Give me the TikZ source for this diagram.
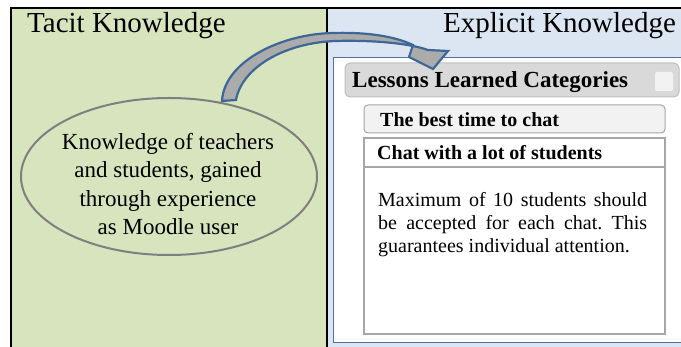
\documentclass[tikz,border=0pt]{standalone}
\usepackage{fontspec}
\setmainfont{Liberation Serif}
\usetikzlibrary{shapes.geometric}
\definecolor{tacitgreen}{HTML}{D7E4BD}
\definecolor{explblue}{HTML}{DCE6F2}
\definecolor{arrowblue}{HTML}{3D6796}
\definecolor{arrowgray}{HTML}{ABABAB}
\definecolor{ellgray}{HTML}{7F7F7F}
\definecolor{panelblue}{HTML}{4A74AA}
\definecolor{barfill}{HTML}{D9D9D9}
\definecolor{barline}{HTML}{BFBFBF}
\definecolor{lightfill}{HTML}{F2F2F2}
\definecolor{boxline}{HTML}{A6A6A6}
\frenchspacing
\begin{document}
\begin{tikzpicture}[x=1pt,y=-1pt,
  titletext/.style={anchor=base west, inner sep=0pt, font=\fontsize{29}{34}\selectfont},
  boldtext/.style={anchor=base west, inner sep=0pt, font=\bfseries\fontsize{20}{23}\selectfont},
  boxshape/.style={rectangle, inner sep=0pt, line width=1pt},
  blockarrow/.style={draw=arrowblue, fill=arrowgray, line width=2.2pt, line join=miter}]
\useasboundingbox (0,0) rectangle (681,347);
% panels
\fill[tacitgreen] (11,8) rectangle (327,352);
\fill[explblue] (327,8) rectangle (690,352);
\draw[line width=1.6pt] (11,352) -- (11,8) -- (690,8);
\draw[line width=1.5pt] (327,8) -- (327,352);
\node[titletext] (tacitTitle) at (27,33) {Tacit Knowledge};
\node[titletext] (explTitle) at (443,33) {Explicit Knowledge};
% white panel
\node[draw=panelblue, fill=white, line width=1.2pt, minimum width=360pt, minimum height=285pt, inner sep=0pt, anchor=north west] (panel) at (333,57) {};
% lessons bar
\node[boxshape, draw=barline, fill=barfill, rounded corners=5pt, minimum width=334pt, minimum height=34pt] (lessons) at (512,80) {};
\node[boldtext, font=\bfseries\fontsize{23}{26}\selectfont] (lessonsText) at (352,88) {Lessons Learned Categories};
\node[fill=lightfill, rounded corners=2pt, minimum width=18pt, minimum height=19pt, inner sep=0pt] (sq) at (664,81.5) {};
% best time
\node[boxshape, draw=boxline, fill=lightfill, rounded corners=4pt, minimum width=301pt, minimum height=28pt] (best) at (514.5,119) {};
\node[boldtext] (bestText) at (380,127) {The best time to chat};
% chat box
\node[boxshape, draw=boxline, fill=white, line width=1.3pt, minimum width=301pt, minimum height=196pt] (chat) at (514.5,236) {};
\draw[boxline, line width=1.3pt] (chat.west |- 0,167) -- (chat.east |- 0,167);
\node[boldtext] (chatText) at (377,160) {Chat with a lot of students};
\node[anchor=north west, inner sep=0pt, align=left, font=\fontsize{20}{23}\selectfont] (body) at (378,192.3)
  {\makebox[269pt][s]{Maximum of 10 students should}\\\makebox[269pt][s]{be accepted for each chat. This}\\guarantees individual attention.};
% ellipse
\node[ellipse, draw=ellgray, line width=2pt, minimum width=296pt, minimum height=157pt, inner sep=0pt] (tacitEll) at (169,176.5) {};
\node[anchor=north, inner sep=0pt, align=center, font=\fontsize{23}{28.2}\selectfont] (ellText) at (168,133.3)
  {Knowledge of teachers\\and students, gained\\through experience\\as Moodle user};
% block arrow from ellipse to lessons bar
\draw[blockarrow]
  (222,101) .. controls (224,62) and (280,34) .. (333,33)
  .. controls (366,32) and (394,36) .. (413,45)
  -- (409,57) -- (433,69) -- (448,51) -- (428,50)
  .. controls (408,43) and (372,40) .. (335,41)
  .. controls (285,43) and (242,67) .. (236,100) -- cycle;
\end{tikzpicture}
\end{document}
